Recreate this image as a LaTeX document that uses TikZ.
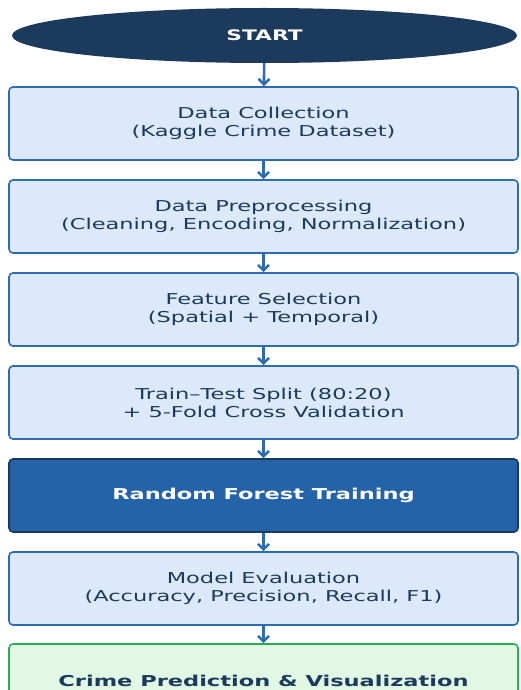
\documentclass[tikz,border=0pt]{standalone}
\usepackage{fontspec}
\setmainfont{DejaVu Sans}[FakeStretch=1.5]
\usepackage{tikz}
\usetikzlibrary{arrows.meta,shapes.geometric}

\definecolor{navy}{HTML}{1B3A5C}
\definecolor{stepblue}{HTML}{2F6BB0}
\definecolor{stepfill}{HTML}{DCE9FB}
\definecolor{trainfill}{HTML}{2563A8}
\definecolor{outgreen}{HTML}{2EAA55}
\definecolor{outfill}{HTML}{E0F8E4}

\begin{document}
\begin{tikzpicture}[x=1pt, y=-1pt,
    stepbox/.style={draw=stepblue, line width=1.6pt, fill=stepfill, rounded corners=4pt,
        minimum width=509pt, minimum height=73pt, text=navy, align=center,
        font=\fontsize{15}{18}\selectfont},
    trainbox/.style={stepbox, draw=navy, fill=trainfill, text=white,
        font=\fontsize{15}{18}\selectfont\bfseries},
    outbox/.style={stepbox, draw=outgreen, fill=outfill, text=navy,
        font=\fontsize{15}{18}\selectfont\bfseries},
    flow/.style={draw=stepblue, line width=2.6pt, -{Straight Barb[length=5.5pt,width=11pt]}}]
    \useasboundingbox (0,0) rectangle (520,690);

    % Start
    \node[ellipse, fill=navy, minimum width=505pt, minimum height=55pt, inner sep=0pt,
        text=white, font=\fontsize{14.5}{16}\selectfont\bfseries] (start) at (264.5,35.5) {START};

    % Steps of the pipeline
    \node[stepbox] (collect) at (263.5,123.5) {Data Collection\\(Kaggle Crime Dataset)};
    \node[stepbox] (prep) at (263.5,216.5) {Data Preprocessing\\(Cleaning, Encoding, Normalization)};
    \node[stepbox] (select) at (263.5,309.5) {Feature Selection\\(Spatial + Temporal)};
    \node[stepbox] (split) at (263.5,402.5) {Train–Test Split (80:20)\\+ 5-Fold Cross Validation};
    \node[trainbox] (train) at (263.5,495.5) {Random Forest Training};
    \node[stepbox] (eval) at (263.5,588.5) {Model Evaluation\\(Accuracy, Precision, Recall, F1)};
    \node[outbox] (predict) at (263.5,680.5) {Crime Prediction \& Visualization};

    % Arrows
    \draw[flow] (start) -- (collect);
    \draw[flow] (collect) -- (prep);
    \draw[flow] (prep) -- (select);
    \draw[flow] (select) -- (split);
    \draw[flow] (split) -- (train);
    \draw[flow] (train) -- (eval);
    \draw[flow] (eval) -- (predict);
\end{tikzpicture}
\end{document}
